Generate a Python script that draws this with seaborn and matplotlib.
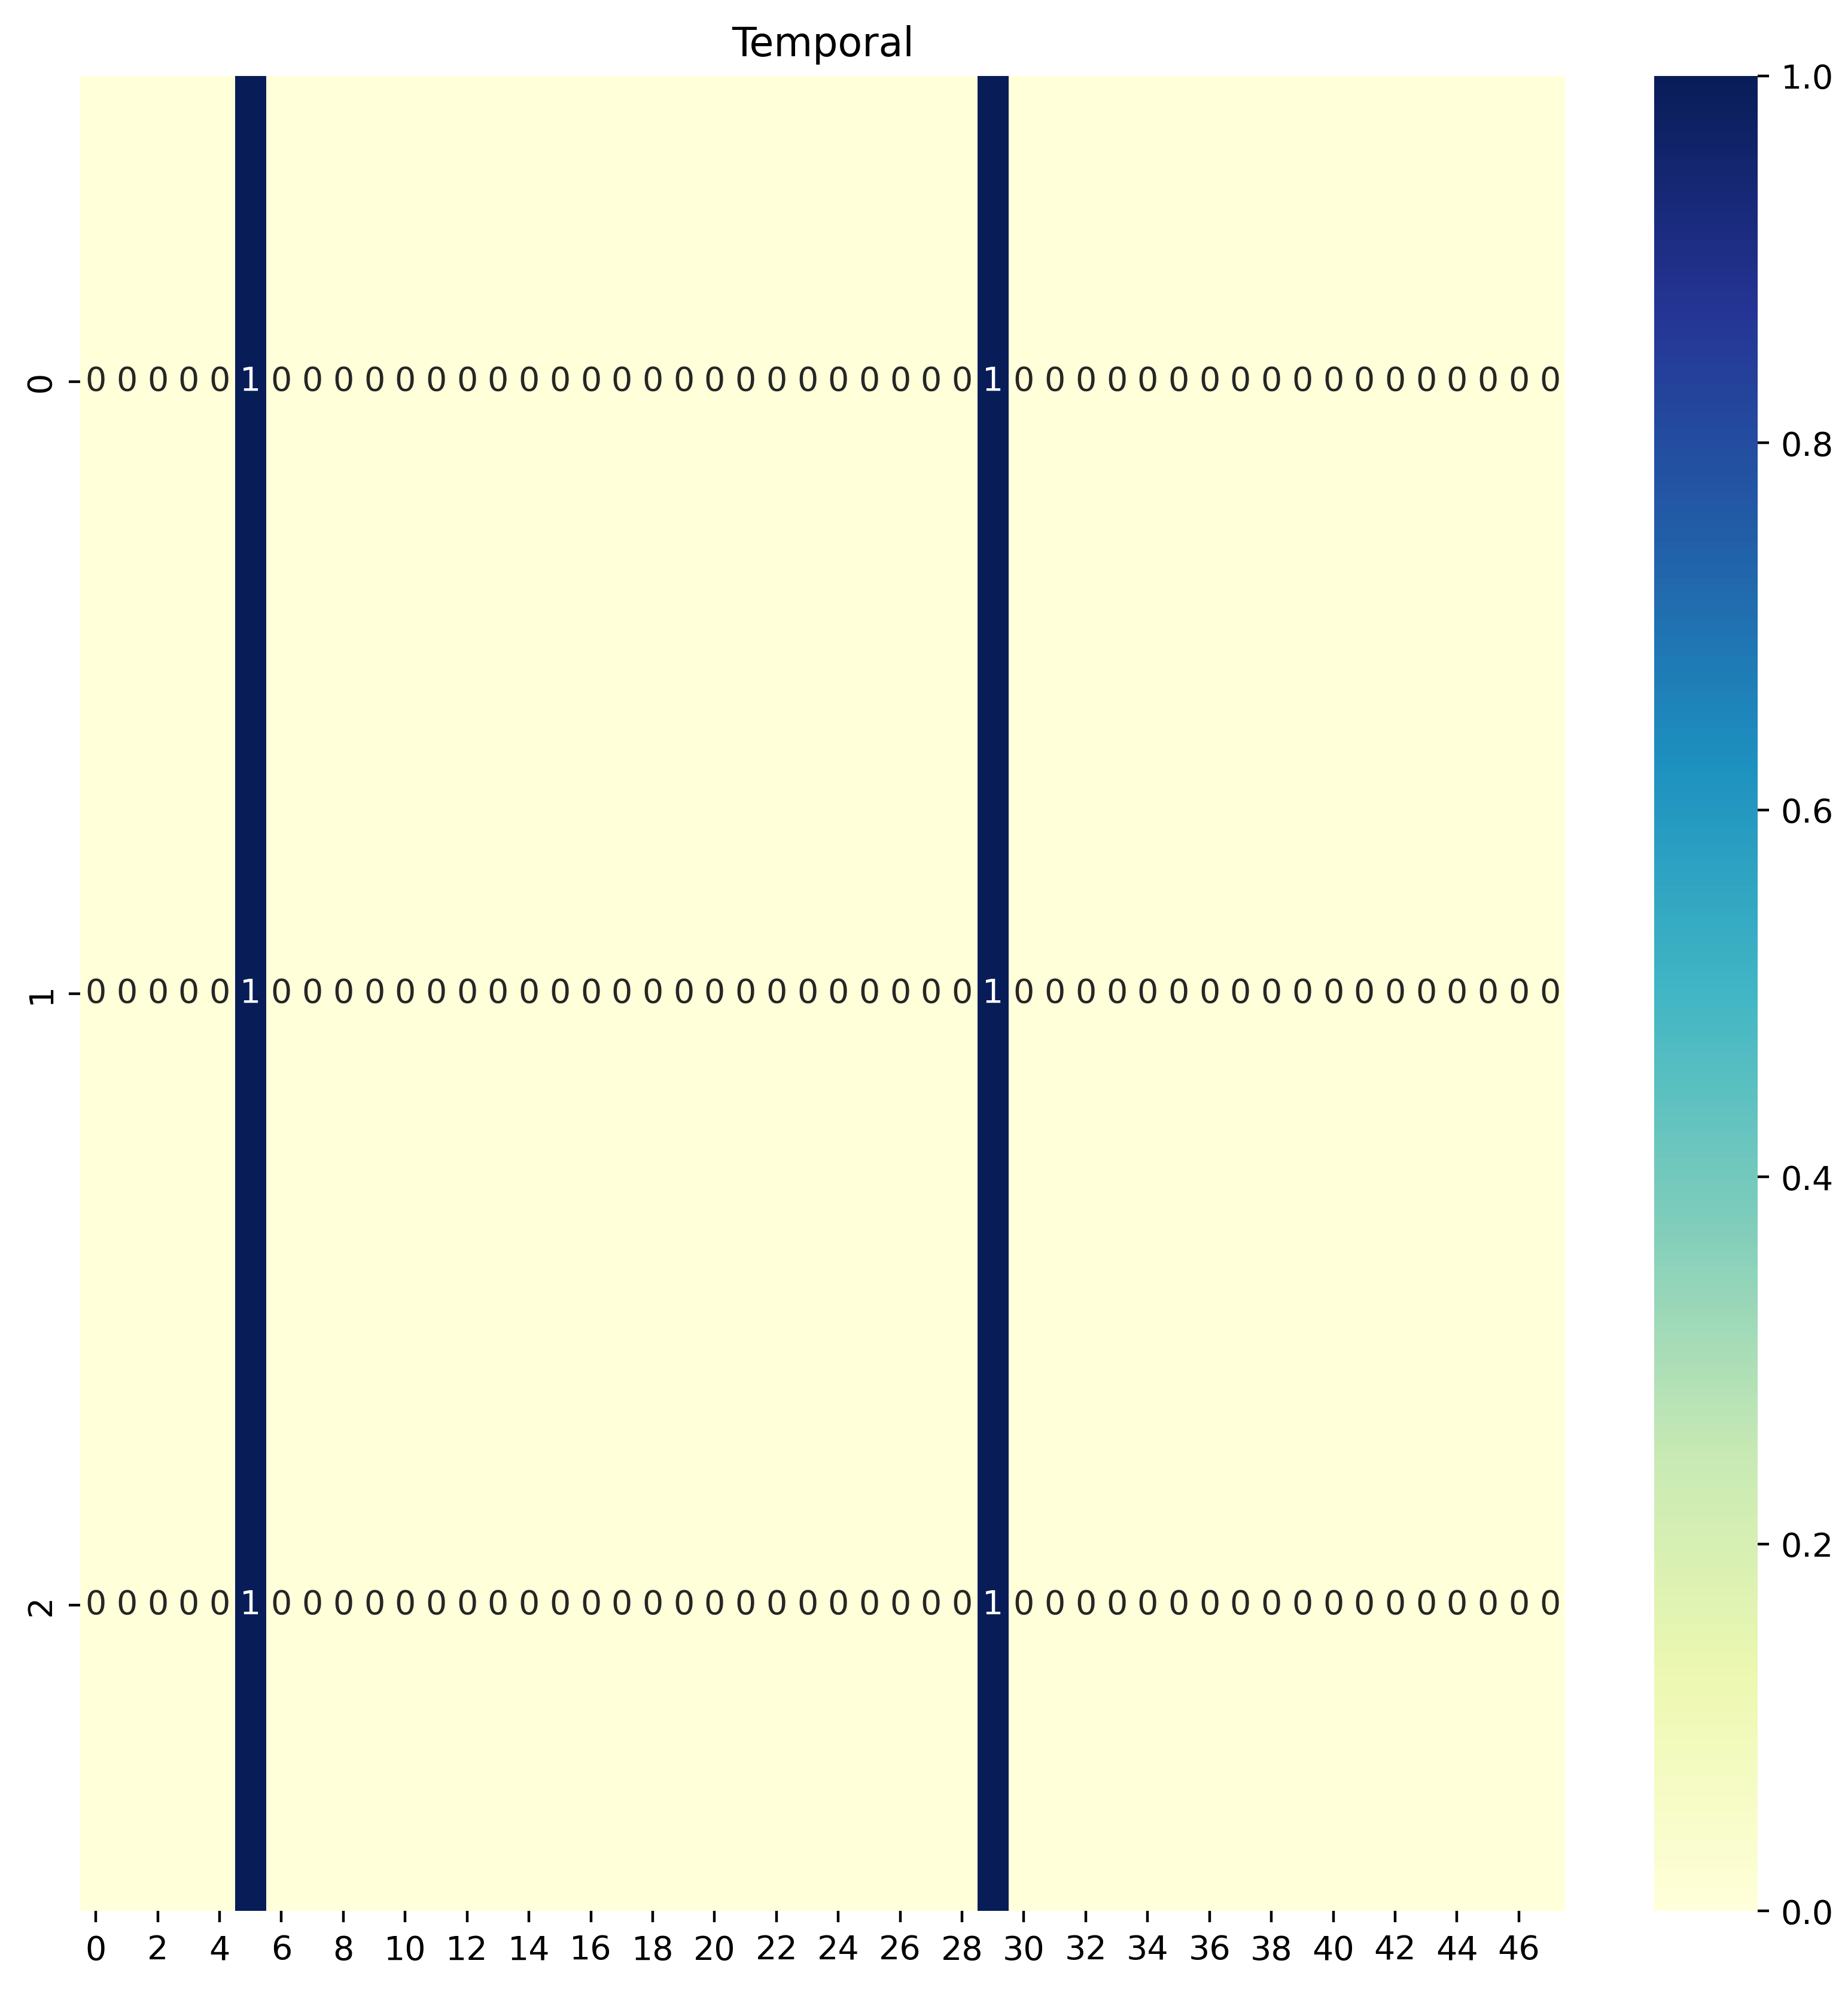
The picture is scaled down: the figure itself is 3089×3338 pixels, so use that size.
import numpy as np
import pandas as pd
import matplotlib
matplotlib.use("Agg")
import matplotlib.pyplot as plt
import seaborn as sns

# 3 rows x 48 time steps, ones at steps 5 and 29
n_rows = 3
n_cols = 48
active_cols = [5, 29]

data = np.zeros((n_rows, n_cols), dtype=int)
data[:, active_cols] = 1
df = pd.DataFrame(data)

fig = plt.figure(figsize=(3089 / 400, 3338 / 400), dpi=400)
ax = fig.add_axes([0.0435, 0.043, 0.8035, 0.919])
cax = fig.add_axes([0.895, 0.043, 0.056, 0.919])
sns.heatmap(df, annot=True, fmt="d", cmap="YlGnBu", ax=ax, cbar_ax=cax,
            xticklabels=2)
ax.tick_params(axis="x", labelrotation=0)
ax.set_title("Temporal")
plt.savefig("out.png", dpi=400)
